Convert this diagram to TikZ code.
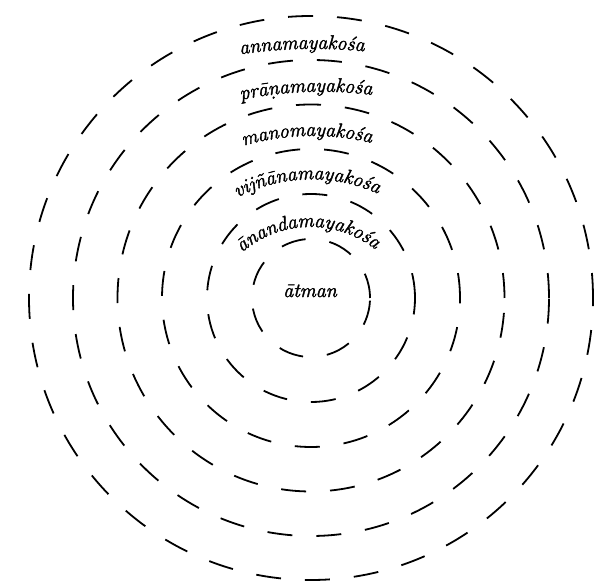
\documentclass[tikz,border=0pt]{standalone}
\usepackage{fontspec}
\newfontfamily\lblfam{Latin Modern Roman}[FakeBold=2]
\usetikzlibrary{decorations.text}
\newcommand\lblfont{\lblfam\itshape\fontsize{20}{24}\selectfont}
\begin{document}
\begin{tikzpicture}[x=1pt,y=1pt,
  ring/.style={line width=1.8pt, dash pattern=on 25pt off 24pt},
  arclabel/.style={decorate, decoration={text along path, text align=center, text={|\lblfont|#1}}}]
\useasboundingbox (0,0) rectangle (599,588);
\fill[white] (0,0) rectangle (599,588);
\coordinate (c) at (311,290);
\foreach \r in {59,104,149,193.5,238,282}
  \draw[ring] (c) circle[radius=\r];
% labels along arcs
\path[arclabel={annamayakośa}] (302,539) ++(271.4:500) ++(111.4:500) arc[start angle=111.4, end angle=71.4, radius=500];
\path[arclabel={prāṇamayakośa}] (306,496) ++(272.2:396) ++(117.2:396) arc[start angle=117.2, end angle=67.2, radius=396];
\path[arclabel={manomayakośa}] (307,452) ++(271.3:248) ++(131.3:248) arc[start angle=131.3, end angle=51.3, radius=248];
\path[arclabel={vijñānamayakośa}] (307,408.5) ++(271.6:161) ++(151.6:161) arc[start angle=151.6, end angle=31.6, radius=161];
\path[arclabel={ānandamayakośa}] (308,361) ++(271.4:104.5) ++(171.4:104.5) arc[start angle=171.4, end angle=11.4, radius=104.5];
\node[anchor=base, inner sep=0pt, font=\lblfont] (atman) at (310,291) {ātman};
\end{tikzpicture}
\end{document}
